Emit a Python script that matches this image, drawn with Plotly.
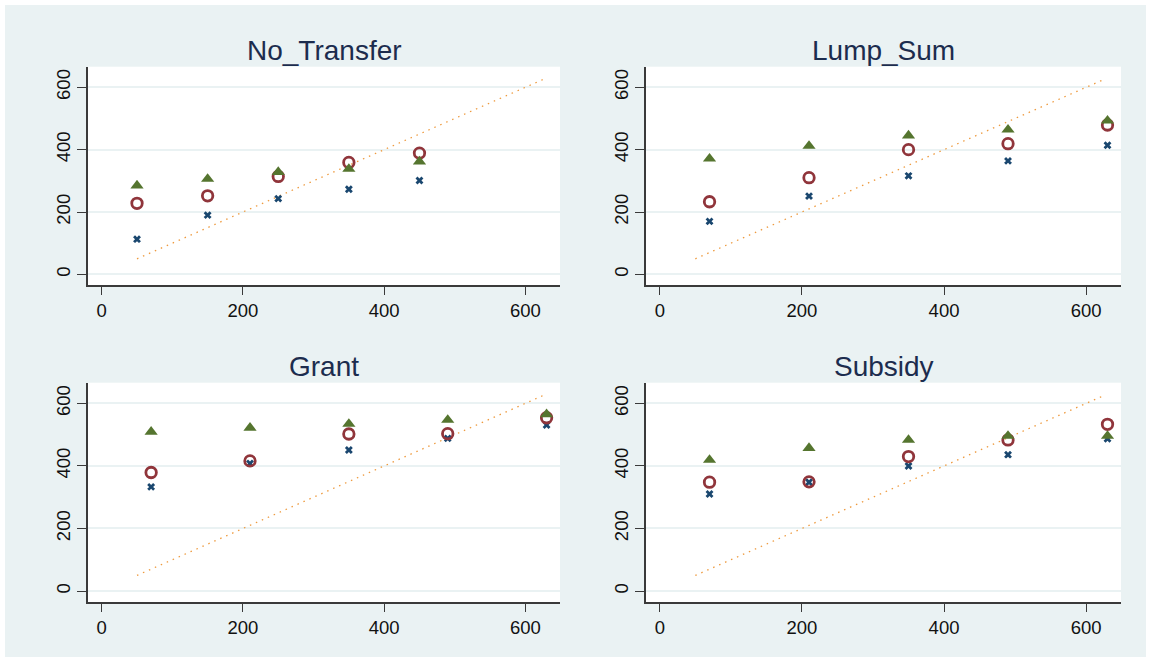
import plotly.graph_objects as go

W, H = 1151, 662

panels = ["No_Transfer", "Lump_Sum", "Grant", "Subsidy"]

x_no_transfer = [50, 150, 250, 350, 450]
x_other = [70, 210, 350, 490, 630]

green_no_transfer = [285, 306, 328, 338, 362]
red_no_transfer = [228, 252, 314, 359, 389]
blue_no_transfer = [113, 190, 243, 273, 301]

green_lump_sum = [371, 412, 445, 464, 493]
red_lump_sum = [233, 310, 400, 419, 479]
blue_lump_sum = [170, 251, 316, 364, 414]

green_grant = [509, 522, 534, 547, 565]
red_grant = [379, 416, 502, 503, 554]
blue_grant = [333, 408, 451, 488, 531]

green_subsidy = [419, 457, 483, 496, 496]
red_subsidy = [348, 349, 430, 483, 533]
blue_subsidy = [310, 348, 400, 436, 487]

diag_x = [50, 625]
diag_y = [50, 625]

x_ticks = [0, 200, 400, 600]
y_ticks = [0, 200, 400, 600]

data = {
    "No_Transfer": (x_no_transfer, green_no_transfer, red_no_transfer, blue_no_transfer),
    "Lump_Sum": (x_other, green_lump_sum, red_lump_sum, blue_lump_sum),
    "Grant": (x_other, green_grant, red_grant, blue_grant),
    "Subsidy": (x_other, green_subsidy, red_subsidy, blue_subsidy),
}

BG = "#EAF2F3"
NAVY = "#1a476f"
MAROON = "#90353b"
GREEN = "#55752f"
ORANGE = "#ee9a3e"
AXIS = "#3a3a3a"

# pixel geometry of plot areas (left, right, top, bottom) and title centre y
boxes = {
    "No_Transfer": (88, 560, 66.7, 285.3, 50),
    "Lump_Sum": (646, 1121, 66.7, 285.3, 50),
    "Grant": (88, 560, 382.7, 602, 366.7),
    "Subsidy": (646, 1121, 382.7, 602, 366.7),
}

FONT = "Liberation Sans, Arial, sans-serif"

fig = go.Figure()
layout = {}
annotations = []
for i, name in enumerate(panels, start=1):
    xs, g, r, b = data[name]
    xa = "x" if i == 1 else f"x{i}"
    ya = "y" if i == 1 else f"y{i}"
    fig.add_trace(go.Scatter(x=diag_x, y=diag_y, mode="lines", xaxis=xa, yaxis=ya,
                             line=dict(color=ORANGE, width=1.3, dash="1.5px,5px"),
                             showlegend=False, hoverinfo="skip"))
    fig.add_trace(go.Scatter(x=xs, y=b, mode="markers", xaxis=xa, yaxis=ya,
                             marker=dict(symbol="x", size=7, color=NAVY, line=dict(width=0)),
                             showlegend=False))
    fig.add_trace(go.Scatter(x=xs, y=r, mode="markers", xaxis=xa, yaxis=ya,
                             marker=dict(symbol="circle-open", size=10.5, color=MAROON,
                                         line=dict(width=2.8, color=MAROON)),
                             showlegend=False))
    fig.add_trace(go.Scatter(x=xs, y=g, mode="markers", xaxis=xa, yaxis=ya,
                             marker=dict(symbol="triangle-up", size=11.5, color=GREEN, line=dict(width=0)),
                             showlegend=False))
    l, rr, t, bt, ty = boxes[name]
    xdom = [l / W, rr / W]
    ydom = [1 - bt / H, 1 - t / H]
    tick_font = dict(family=FONT, size=18.5, color="#111111")
    layout["xaxis" if i == 1 else f"xaxis{i}"] = dict(
        domain=xdom, range=[-19.4, 649], anchor=ya, tickvals=x_ticks,
        ticks="outside", ticklen=8, tickwidth=1.3, tickcolor=AXIS,
        showline=True, linecolor=AXIS, linewidth=1.5, showgrid=False, zeroline=False,
        tickfont=tick_font)
    layout["yaxis" if i == 1 else f"yaxis{i}"] = dict(
        domain=ydom, range=[-35, 666], anchor=xa, tickvals=y_ticks,
        ticks="outside", ticklen=9, tickwidth=1.3, tickcolor=AXIS, tickangle=-90,
        showline=True, linecolor=AXIS, linewidth=1.5, showgrid=True, gridcolor=BG,
        gridwidth=1.6, zeroline=False, tickfont=tick_font)
    annotations.append(dict(text=name, x=(l + rr) / 2 / W, y=1 - ty / H,
                            xref="paper", yref="paper", showarrow=False,
                            xanchor="center", yanchor="middle",
                            font=dict(family=FONT, size=28, color="#1C2C4E")))

fig.update_layout(**layout)
fig.update_layout(
    width=W, height=H, autosize=False,
    margin=dict(l=0, r=0, t=0, b=0),
    paper_bgcolor=BG, plot_bgcolor="white",
    annotations=annotations,
    shapes=[dict(type="rect", xref="paper", yref="paper", x0=0, y0=0, x1=1, y1=1,
                 line=dict(color="white", width=10), layer="above")],
)

fig.write_html("out.html", config={"displayModeBar": False},
               post_script="document.body.style.margin='0';document.body.style.overflow='hidden';")
